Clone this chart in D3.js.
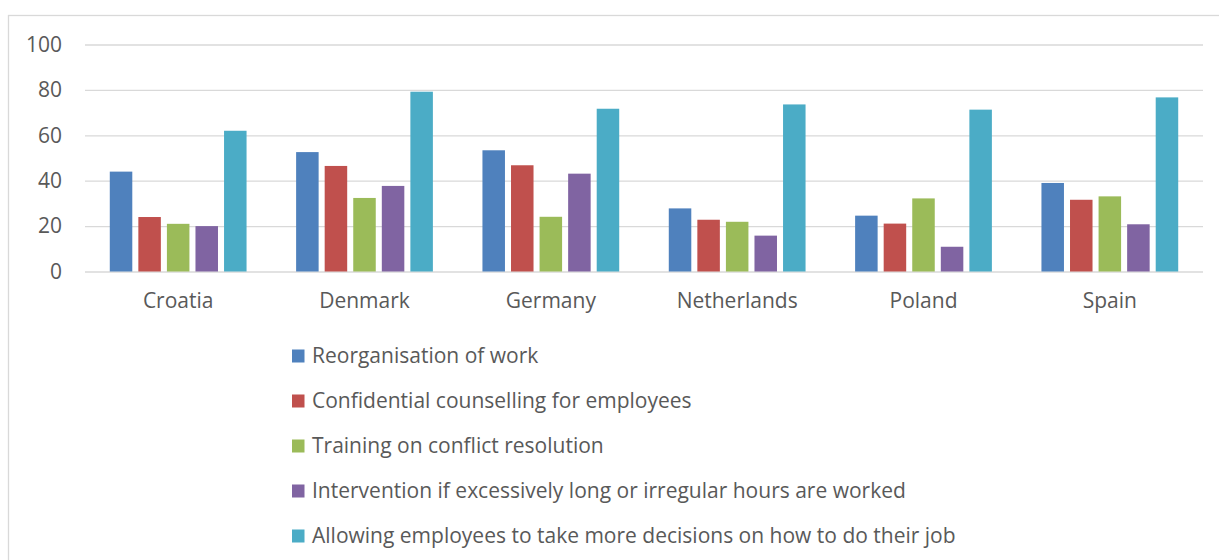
<!DOCTYPE html>
<html>
<head>
<meta charset="utf-8">
<script src="https://cdn.jsdelivr.net/npm/d3@7"></script>
<style>
  html, body { margin: 0; padding: 0; background: #fff; }
  svg { display: block; }
  text { font-family: "Open Sans", "Noto Sans", sans-serif; fill: #595959; }
</style>
</head>
<body>
<svg id="chart" width="1219" height="560"></svg>
<script>
// Countries along the x axis
const countries = ["Croatia", "Denmark", "Germany", "Netherlands", "Poland", "Spain"];

// Measure names (legend order)
const measures = [
  "Reorganisation of work",
  "Confidential counselling for employees",
  "Training on conflict resolution",
  "Intervention if excessively long or irregular hours are worked",
  "Allowing employees to take more decisions on how to do their job"
];

// Share of establishments (%) per measure, one value per country
const reorganisation   = [44, 52.6, 53.4, 27.8, 24.6, 39];
const counselling      = [24, 46.5, 46.8, 22.8, 21.1, 31.6];
const conflictTraining = [21, 32.4, 24.1, 21.9, 32.2, 33.1];
const longHours        = [20, 37.7, 43.1, 15.8, 10.9, 20.8];
const moreDecisions    = [62, 79.2, 71.7, 73.6, 71.3, 76.7];

const yTicks = [0, 20, 40, 60, 80, 100];

const seriesValues = [reorganisation, counselling, conflictTraining, longHours, moreDecisions];
const colors = ["#4F81BD", "#C0504D", "#9BBB59", "#8064A2", "#4BACC6"];

const fontSize = 21;
const svg = d3.select("#chart");

// Chart frame
svg.append("rect")
  .attr("x", 8.5).attr("y", 15.5)
  .attr("width", 1230).attr("height", 560)
  .attr("fill", "none").attr("stroke", "#d9d9d9").attr("stroke-width", 1.3);

const plot = { left: 85, right: 1203, top: 44.5, bottom: 271.5 };

const x0 = d3.scaleBand()
  .domain(countries)
  .range([plot.left, plot.right])
  .paddingInner(0.266)
  .paddingOuter(0.133);

const x1 = d3.scaleBand()
  .domain(d3.range(measures.length))
  .range([0, x0.bandwidth()])
  .paddingInner(0.212)
  .paddingOuter(0);

const y = d3.scaleLinear().domain([0, 100]).range([plot.bottom, plot.top]);

// Horizontal gridlines and value labels
const yAxis = d3.axisLeft(y)
  .tickValues(yTicks)
  .tickSize(-(plot.right - plot.left))
  .tickPadding(23)
  .tickFormat(d3.format("d"));

const gy = svg.append("g")
  .attr("transform", `translate(${plot.left},0)`)
  .call(yAxis);
gy.select(".domain").remove();
gy.selectAll(".tick line").attr("stroke", "#d9d9d9").attr("stroke-width", 1.3);
gy.selectAll(".tick text")
  .attr("font-size", fontSize)
  .attr("fill", "#595959")
  .style("font-family", "'Open Sans', sans-serif");

// Category labels
const xAxis = d3.axisBottom(x0).tickSize(0).tickPadding(22);
const gx = svg.append("g")
  .attr("transform", `translate(0,${plot.bottom})`)
  .call(xAxis);
gx.select(".domain").remove();
gx.selectAll(".tick text")
  .attr("font-size", fontSize)
  .attr("fill", "#595959")
  .style("font-family", "'Open Sans', sans-serif");

// Bars
const groups = svg.append("g").selectAll("g")
  .data(countries)
  .join("g")
  .attr("transform", d => `translate(${x0(d)},0)`);

groups.selectAll("rect")
  .data((d, i) => seriesValues.map((vals, s) => ({ s, v: vals[i] })))
  .join("rect")
  .attr("x", d => x1(d.s))
  .attr("width", x1.bandwidth())
  .attr("y", d => y(d.v))
  .attr("height", d => y(0) - y(d.v))
  .attr("fill", d => colors[d.s]);

// Legend
const legend = svg.append("g").attr("transform", "translate(292,356)");
const rows = legend.selectAll("g")
  .data(measures)
  .join("g")
  .attr("transform", (d, i) => `translate(0,${i * 45})`);

rows.append("rect")
  .attr("x", 0).attr("y", -6.5)
  .attr("width", 12.5).attr("height", 13)
  .attr("fill", (d, i) => colors[i]);

rows.append("text")
  .attr("x", 20)
  .attr("y", 0)
  .attr("dy", "0.35em")
  .attr("font-size", fontSize)
  .text(d => d);
</script>
</body>
</html>
